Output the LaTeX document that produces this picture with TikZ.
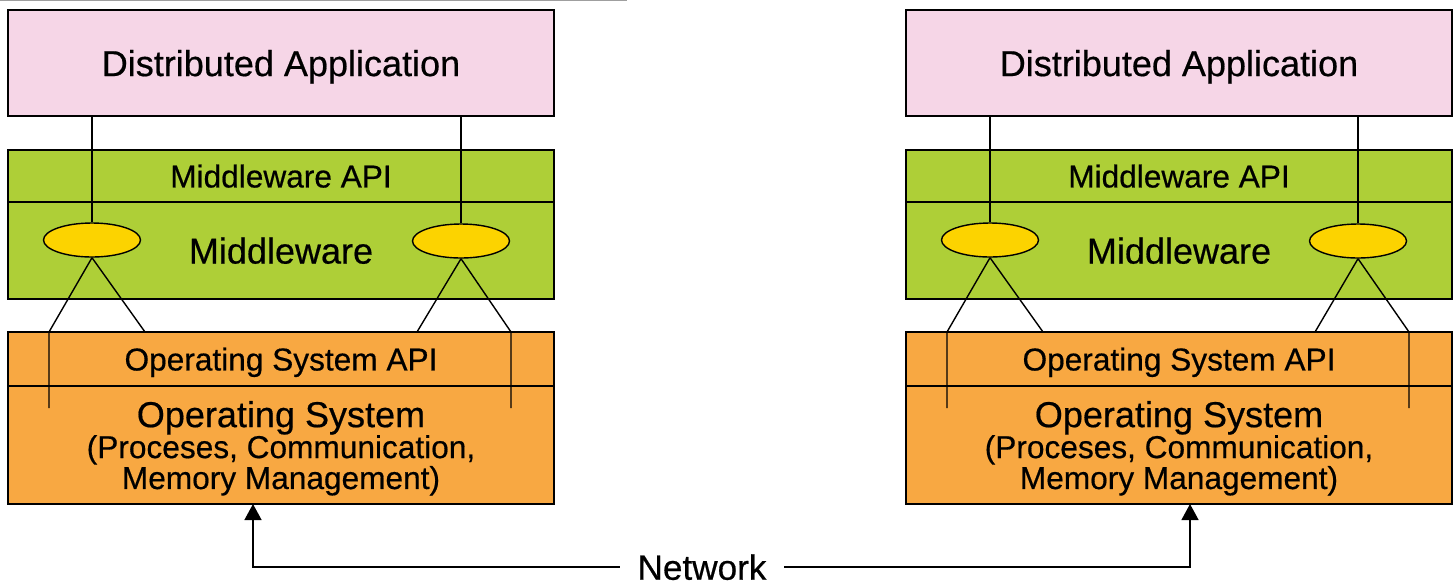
\documentclass[tikz,border=0pt]{standalone}
\usepackage{fontspec}
\setmainfont{Liberation Sans}[FakeBold=0.5]
\usetikzlibrary{shapes.geometric,arrows.meta}
\definecolor{apppink}{RGB}{246,214,231}
\definecolor{mwgreen}{RGB}{174,207,55}
\definecolor{osorange}{RGB}{248,168,66}
\definecolor{ellyellow}{RGB}{252,211,0}
\begin{document}
\begin{tikzpicture}[x=0.2mm, y=-0.2mm, line width=0.8pt,
	every node/.style={draw, rectangle, inner sep=0, text depth=0, minimum width=109.2mm, align=center},
	app/.style={fill=apppink, minimum height=21.2mm, font=\fontsize{20.5}{24}\selectfont},
	mwapi/.style={fill=mwgreen, minimum height=10.4mm, font=\fontsize{18}{21}\selectfont},
	mw/.style={fill=mwgreen, minimum height=19.4mm, font=\fontsize{20.5}{24}\selectfont},
	osapi/.style={fill=osorange, minimum height=10.8mm, font=\fontsize{18}{21}\selectfont},
	os/.style={fill=osorange, minimum height=23.6mm, font=\fontsize{18}{17.6}\selectfont},
	ell/.style={ellipse, fill=ellyellow, minimum width=19.4mm, minimum height=6.8mm},
	net/.style={draw=none, minimum width=0, inner xsep=3.4mm, font=\fontsize{20}{24}\selectfont},
	arr/.style={-{Triangle[width=3.4mm,length=3.2mm]}}]
	
	\useasboundingbox (0,0) rectangle (1453,585);
	\draw[gray!75, line width=1pt] (0,0.5) -- (627,0.5);
	
	\node (A) at (281,63) [app] {Distributed Application};
	\node (B) at (281,176) [mwapi] {Middleware API};
	\node (C) at (281,250.5) [mw] {Middleware};
	\node (D) at (281,359) [osapi] {Operating System API};
	\node (E) at (281,445) [os] {{\fontsize{20.5}{20}\selectfont Operating System}\\(Proceses, Communication,\\Memory Management)};
	\node (F) at (92,240) [ell] {};
	\node (G) at (461,241) [ell] {};
	\coordinate (f1) at (49,332);
	\coordinate (f2) at (145,332);
	\coordinate (f3) at (49,408);
	\coordinate (g1) at (417,332);
	\coordinate (g2) at (511,332);
	\coordinate (g3) at (511,408);
	\draw (F.north) -- (F.north |- A.south);
	\draw (G.north) -- (G.north |- A.south);
	\draw (F.south) -- (f1) -- (f3);
	\draw (F.south) -- (f2);
	\draw (G.south) -- (g1);
	\draw (G.south) -- (g2) -- (g3);
	
	\node (A1) at (1179,63) [app] {Distributed Application};
	\node (B1) at (1179,176) [mwapi] {Middleware API};
	\node (C1) at (1179,250.5) [mw] {Middleware};
	\node (D1) at (1179,359) [osapi] {Operating System API};
	\node (E1) at (1179,445) [os] {{\fontsize{20.5}{20}\selectfont Operating System}\\(Proceses, Communication,\\Memory Management)};
	\node (F1) at (990,240) [ell] {};
	\node (G1) at (1358,241) [ell] {};
	\coordinate (f11) at (947,332);
	\coordinate (f21) at (1043,332);
	\coordinate (f31) at (947,408);
	\coordinate (g11) at (1315,332);
	\coordinate (g21) at (1409,332);
	\coordinate (g31) at (1409,408);
	\draw (F1.north) -- (F1.north |- A1.south);
	\draw (G1.north) -- (G1.north |- A1.south);
	\draw (F1.south) -- (f11) -- (f31);
	\draw (F1.south) -- (f21);
	\draw (G1.south) -- (g11);
	\draw (G1.south) -- (g21) -- (g31);
	
	\node (N) at (702,567) [net] {Network};
	\coordinate (a1) at (253,504);
	\coordinate (a2) at (1190,504);
	\draw[arr] (N) -| (a1);
	\draw[arr] (N) -| (a2);
\end{tikzpicture}
\end{document}
